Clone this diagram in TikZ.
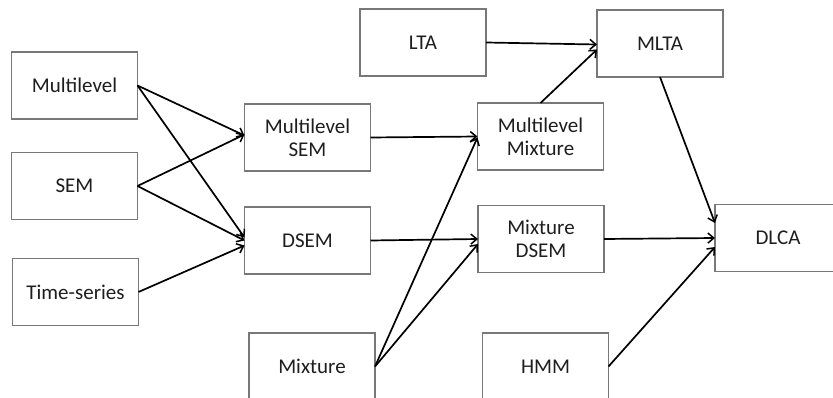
\documentclass[tikz,border=0pt]{standalone}
\usepackage{fontspec}
\setmainfont{Carlito}
\usetikzlibrary{arrows.meta}
\definecolor{boxgray}{RGB}{120,120,120}
\definecolor{textgray}{RGB}{30,30,30}
\tikzset{
    model/.style={rectangle, draw=boxgray, line width=1.4pt, fill=white, text=textgray,
        minimum width=126pt, minimum height=67pt, align=center, inner sep=2pt, outer sep=0pt,
        font=\fontsize{21}{23}\selectfont},
    link/.style={-{Straight Barb[length=6pt,width=10pt,line width=1.5pt]}, line width=1.7pt, black}
}
\begin{document}
\begin{tikzpicture}[x=1pt,y=-1pt]
    \useasboundingbox (0,0) rectangle (833,398);
    \clip (0,0) rectangle (833,398);
    % sources
    \node(multilevel) [model] at (74.5,85.5) {Multilevel};
    \node(sem) [model] at (74.5,186) {SEM};
    \node(timeseries) [model] at (75.5,292) {Time-series};
    % second column
    \node(msem) [model] at (307.5,137.5) {Multilevel\\SEM};
    \node(dsem) [model] at (307.5,240.5) {DSEM};
    \node(mixture) [model] at (312,366.5) {Mixture};
    % third column
    \node(lta) [model] at (423,42.5) {LTA};
    \node(mmix) [model] at (540.5,136.5) {Multilevel\\Mixture};
    \node(mdsem) [model] at (541,239) {Mixture\\DSEM};
    \node(hmm) [model] at (545.5,366.5) {HMM};
    % targets
    \node(mlta) [model] at (660,43.5) {MLTA};
    \node(dlca) [model] at (778,238) {DLCA};

    \draw[link] (multilevel.east) -- ([yshift=2pt]msem.west);
    \draw[link] (multilevel.east) -- ([yshift=3pt]dsem.west);
    \draw[link] (sem.east) -- ([yshift=3pt]msem.west);
    \draw[link] (sem.east) -- (dsem.west);
    \draw[link] (timeseries.east) -- ([yshift=-5pt]dsem.west);
    \draw[link] (msem.east) -- (mmix.west);
    \draw[link] (dsem.east) -- (mdsem.west);
    \draw[link] (mixture.east) -- ([yshift=-1pt]mmix.west);
    \draw[link] (mixture.east) -- ([yshift=-5pt]mdsem.west);
    \draw[link] (lta.east) -- ([yshift=-1pt]mlta.west);
    \draw[link] (mmix.north) -- ([yshift=-6pt]mlta.west);
    \draw[link] (mlta.south) -- ([yshift=15pt]dlca.west);
    \draw[link] (mdsem.east) -- (dlca.west);
    \draw[link] (hmm.east) -- ([yshift=-9pt]dlca.west);
\end{tikzpicture}
\end{document}
